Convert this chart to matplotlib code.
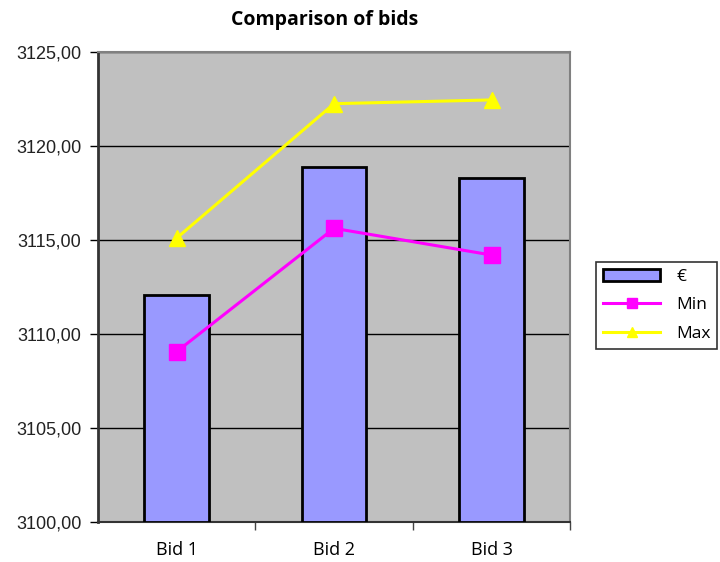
import matplotlib
matplotlib.use("Agg")
import matplotlib.pyplot as plt
from matplotlib.ticker import FuncFormatter, MultipleLocator
from matplotlib.legend_handler import HandlerPatch
from matplotlib.patches import Rectangle

categories = ["Bid 1", "Bid 2", "Bid 3"]
euro_values = [3112.1, 3118.9, 3118.3]
min_values = [3109.06, 3115.62, 3114.2]
max_values = [3115.1, 3122.25, 3122.45]

fig = plt.figure(figsize=(7.2, 5.62), dpi=100)
ax = fig.add_axes([0.136, 0.0712, 0.656, 0.8363])
ax.set_facecolor("#c0c0c0")

x = list(range(len(categories)))
bars = ax.bar(x, [v - 3100 for v in euro_values], bottom=3100, width=0.41,
              color="#9999ff", edgecolor="black", linewidth=2, zorder=3, label="€")
l_min, = ax.plot(x, min_values, color="#ff00ff", linewidth=2.2, marker="s", markersize=12,
                 zorder=4, label="Min")
l_max, = ax.plot(x, max_values, color="#ffff00", linewidth=2.2, marker="^", markersize=12,
                 zorder=4, label="Max")

ax.set_xlim(-0.5, 2.5)
ax.set_ylim(3100, 3125)
ax.yaxis.set_major_locator(MultipleLocator(5))
ax.yaxis.set_major_formatter(FuncFormatter(lambda v, p: f"{v:.2f}".replace(".", ",")))
ax.grid(axis="y", color="black", linewidth=1, zorder=1)
ax.set_axisbelow(True)

ax.set_xticks(x)
ax.set_xticklabels(categories, fontfamily="Open Sans", fontsize=13)
ax.tick_params(axis="x", length=0, pad=14)
ax.set_xticks([0.5, 1.5, 2.5], minor=True)
ax.tick_params(axis="x", which="minor", length=6, width=1, color="#444444")
ax.tick_params(axis="y", direction="out", length=6, width=1, labelsize=13, pad=6,
               labelcolor="#222222")
for lab in ax.get_yticklabels():
    lab.set_fontfamily("Liberation Sans")

for side in ["top", "right"]:
    ax.spines[side].set_color("#808080")
    ax.spines[side].set_linewidth(1.5)
ax.spines["left"].set_color("#333333")
ax.spines["left"].set_linewidth(2)
ax.spines["bottom"].set_color("#333333")
ax.spines["bottom"].set_linewidth(1.5)

fig.text(0.451, 0.964, "Comparison of bids", ha="center", va="center",
         fontsize=14, fontweight="bold", fontfamily="Open Sans")


def thin_bar(legend, orig_handle, xdescent, ydescent, width, height, fontsize):
    return Rectangle((-xdescent, -ydescent + height * 0.25), width, height * 0.5)


leg = fig.legend([bars, l_min, l_max], ["€", "Min", "Max"],
                 loc="upper left", bbox_to_anchor=(0.828, 0.534), borderaxespad=0,
                 frameon=True, fancybox=False, edgecolor="black",
                 prop={"family": "Open Sans", "size": 12.5},
                 handlelength=3.3, borderpad=0.4, labelspacing=0.7, handletextpad=0.9,
                 markerscale=0.6,
                 handler_map={type(bars.patches[0]): HandlerPatch(patch_func=thin_bar)})
leg.get_frame().set_linewidth(1.2)

fig.savefig("out.png", dpi=100, facecolor="white")
